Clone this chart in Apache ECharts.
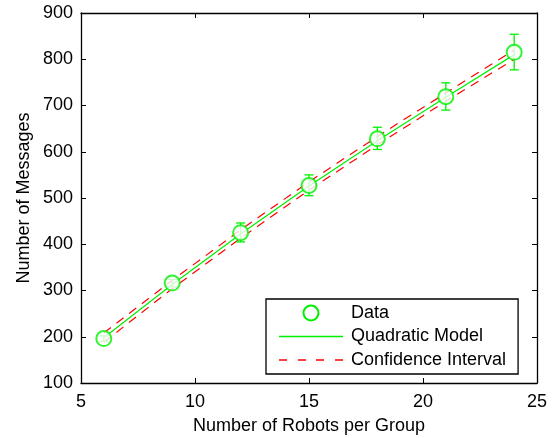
<!DOCTYPE html>
<html><head><meta charset="utf-8">
<script src="https://cdn.jsdelivr.net/npm/echarts@6/dist/echarts.min.js"></script>
<style>html,body{margin:0;padding:0;background:#fff}#c{width:555px;height:438px}</style>
</head><body><div id="c"></div>
<script>
var robots = [6, 9, 12, 15, 18, 21, 24];
var messages = [196, 316, 425, 527, 628, 719, 815];
var errLow = [190, 308, 405, 505, 605, 690, 777];
var errHigh = [202, 324, 446, 550, 653, 749, 854];
var modelVals = [198, 313, 422, 526, 624, 718, 810];
var ciUpper = [208, 322, 431, 535, 633, 727, 820];
var ciLower = [188, 304, 413, 517, 615, 709, 800];
var xTicks = [5, 10, 15, 20, 25];
var yTicks = [100, 200, 300, 400, 500, 600, 700, 800, 900];
var xTitle = 'Number of Robots per Group';
var yTitle = 'Number of Messages';

function pairs(xs, ys){ return xs.map(function(x,i){return [x, ys[i]];}); }

var font = '"Liberation Sans", Arial, Helvetica, sans-serif';
var green = '#00f000';
var red = '#ff0000';

var lineIcon = 'path://M0,0L64,0L64,1.5L0,1.5Z';
var dashIcon = 'path://M0,0L8,0L8,1.5L0,1.5Z M19,0L27,0L27,1.5L19,1.5Z M37,0L45,0L45,1.5L37,1.5Z M56,0L64,0L64,1.5L56,1.5Z';

var chart = echarts.init(document.getElementById('c'));
var axisCommon = {
  axisLine: {show: true, onZero: false, lineStyle: {color: '#000', width: 1.3}},
  axisTick: {show: true, inside: true, length: 5, lineStyle: {color: '#000', width: 1}},
  splitLine: {show: false}
};
chart.setOption({
  animation: false,
  backgroundColor: '#fff',
  grid: {left: 81, right: 18, top: 13, bottom: 55, containLabel: false, outerBoundsMode: 'none'},
  graphic: [
    {type: 'text', x: 309, y: 426, style: {text: xTitle, font: '18px ' + font, fill: '#000', align: 'center', verticalAlign: 'middle'}},
    {type: 'text', x: 24, y: 198, rotation: Math.PI / 2, style: {text: yTitle, font: '18px ' + font, fill: '#000', align: 'center', verticalAlign: 'middle'}}
  ],
  xAxis: [
    Object.assign({type: 'value', min: xTicks[0], max: xTicks[xTicks.length-1], interval: 5, position: 'bottom',
      axisLabel: {fontFamily: font, fontSize: 18, color: '#000', margin: 10}}, axisCommon),
    Object.assign({type: 'value', min: xTicks[0], max: xTicks[xTicks.length-1], interval: 5, position: 'top',
      axisLabel: {show: false}}, axisCommon)
  ],
  yAxis: [
    Object.assign({type: 'value', min: yTicks[0], max: yTicks[yTicks.length-1], interval: 100, position: 'left',
      axisLabel: {fontFamily: font, fontSize: 18, color: '#000', margin: 8}}, axisCommon),
    Object.assign({type: 'value', min: yTicks[0], max: yTicks[yTicks.length-1], interval: 100, position: 'right',
      axisLabel: {show: false}}, axisCommon)
  ],
  legend: {
    orient: 'vertical', left: 266, top: 299,
    padding: [5, 12, 5, 13],
    backgroundColor: '#fff',
    borderColor: '#000', borderWidth: 1.3,
    itemWidth: 64, itemHeight: 15, itemGap: 5.5,
    textStyle: {fontFamily: font, fontSize: 18, color: '#000', padding: [0, 0, 0, 3]},
    data: [
      {name: 'Data', icon: 'emptyCircle', itemStyle: {color: green, borderColor: green, borderWidth: 1.3}},
      {name: 'Quadratic Model', icon: lineIcon, itemStyle: {color: green, borderWidth: 0}},
      {name: 'Confidence Interval', icon: dashIcon, itemStyle: {color: red, borderWidth: 0}}
    ]
  },
  series: [
    {
      name: 'Quadratic Model', type: 'line', data: pairs(robots, modelVals),
      symbol: 'none', z: 3,
      lineStyle: {color: green, width: 1.2}, itemStyle: {color: green}
    },
    {
      name: 'Confidence Interval', type: 'line', data: pairs(robots, ciUpper),
      symbol: 'none', z: 2,
      lineStyle: {color: red, width: 1.2, type: [9, 7]}, itemStyle: {color: red}
    },
    {
      name: 'Confidence Interval', type: 'line', data: pairs(robots, ciLower),
      symbol: 'none', z: 2,
      lineStyle: {color: red, width: 1.2, type: [9, 7]}, itemStyle: {color: red}
    },
    {
      name: 'Data', type: 'custom', z: 4,
      data: robots.map(function(x,i){return [x, errLow[i], errHigh[i]];}),
      renderItem: function(params, api){
        var lo = api.coord([api.value(0), api.value(1)]);
        var hi = api.coord([api.value(0), api.value(2)]);
        var w = 4.5;
        var st = {stroke: green, lineWidth: 1.3};
        return {type: 'group', children: [
          {type: 'line', shape: {x1: lo[0], y1: lo[1], x2: hi[0], y2: hi[1]}, style: st},
          {type: 'line', shape: {x1: lo[0]-w, y1: lo[1], x2: lo[0]+w, y2: lo[1]}, style: st},
          {type: 'line', shape: {x1: hi[0]-w, y1: hi[1], x2: hi[0]+w, y2: hi[1]}, style: st}
        ]};
      },
      itemStyle: {color: green}
    },
    {
      name: 'Data', type: 'scatter', data: pairs(robots, messages), z: 5,
      symbol: 'emptyCircle', symbolSize: 15,
      itemStyle: {color: green, borderColor: green, borderWidth: 1.3}
    }
  ]
});
</script></body></html>
